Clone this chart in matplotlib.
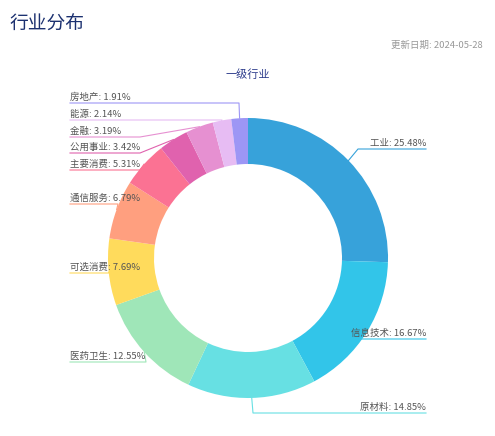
import numpy as np
import matplotlib
matplotlib.use("Agg")
import matplotlib.pyplot as plt
from matplotlib.patches import Wedge

plt.rcParams['font.family'] = ['Noto Sans CJK SC', 'DejaVu Sans']

# data
industries = ['工业', '信息技术', '原材料', '医药卫生', '可选消费', '通信服务',
              '主要消费', '公用事业', '金融', '能源', '房地产']
weights = [25.48, 16.67, 14.85, 12.55, 7.69, 6.79, 5.31, 3.42, 3.19, 2.14, 1.91]
colors = ['#37A2DA', '#32C5E9', '#67E0E3', '#9FE6B8', '#FFDB5C', '#ff9f7f',
          '#fb7293', '#E062AE', '#E690D1', '#e7bcf3', '#9d96f5']

# layout (pixels, y measured from top)
W, H = 495, 436
cx, cy = 248, 258
r_out, r_in = 140, 94
label_y = [149, 339, 413, 362, 273, 204, 170, 153, 137, 120, 103]
elbow_x = [358, 350, 253, 146, 109, 118, 140, 140, 140, 222, 239]
left_x, right_x = 70, 426

fig = plt.figure(figsize=(W / 100, H / 100), dpi=100)
ax = fig.add_axes([0, 0, 1, 1])
ax.set_xlim(0, W)
ax.set_ylim(H, 0)
ax.axis('off')

total = sum(weights)
start = 0.0
for name, w, c, ly, ex in zip(industries, weights, colors, label_y, elbow_x):
    sweep = w / total * 360
    # clockwise from 12 o'clock; y axis is inverted so Wedge angles run clockwise
    ax.add_patch(Wedge((cx, cy), r_out, start - 90, start + sweep - 90,
                       width=r_out - r_in, facecolor=c, edgecolor='none'))
    mid = np.radians(start + sweep / 2)
    px = cx + r_out * np.sin(mid)
    py = cy - r_out * np.cos(mid)
    txt = '%s: %.2f%%' % (name, w)
    if px >= cx:
        ax.text(right_x, ly - 1.5, txt, ha='right', va='bottom', fontsize=6.8, color='#555555')
        ax.plot([px, ex, right_x], [py, ly, ly], color=c, lw=0.8)
    else:
        ax.text(left_x, ly - 1.5, txt, ha='left', va='bottom', fontsize=6.8, color='#555555')
        ax.plot([left_x, ex, px], [ly, ly, py], color=c, lw=0.8)
    start += sweep

fig.text(10 / W, 1 - 24 / H, '行业分布', fontsize=13.5, color='#1c3170', va='center', ha='left')
fig.text(483 / W, 1 - 45 / H, '更新日期: 2024-05-28', fontsize=6.8, color='#999999',
         va='center', ha='right')
ax.text(cx, 75, '一级行业', fontsize=8, color='#2d3c8c', ha='center', va='center')

fig.savefig('out.png', dpi=100, facecolor='white')
